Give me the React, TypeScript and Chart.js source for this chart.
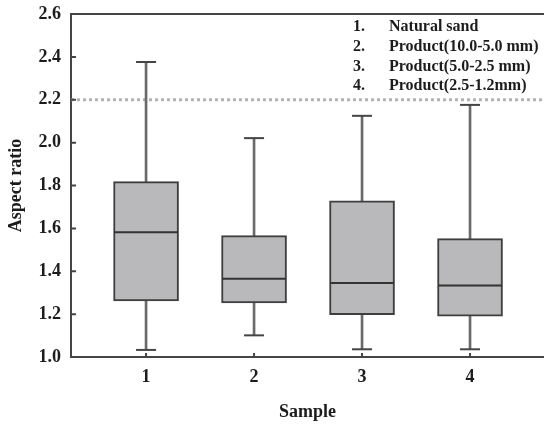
import React, { useEffect, useRef } from "react";
import { Chart, registerables } from "chart.js";

Chart.register(...registerables);

const SAMPLES = [1, 2, 3, 4];
const LOWER = [1.033, 1.101, 1.036, 1.036];
const Q1 = [1.262, 1.252, 1.197, 1.19];
const MEDIAN = [1.582, 1.365, 1.345, 1.334];
const Q3 = [1.818, 1.566, 1.729, 1.552];
const UPPER = [2.376, 2.021, 2.125, 2.176];
const Y_TICKS = [1.0, 1.2, 1.4, 1.6, 1.8, 2.0, 2.2, 2.4, 2.6];
const REF_LINE = 2.2;
const X_MIN = 0.305;
const X_MAX = 4.685;
const LEGEND_NUMS = ["1.", "2.", "3.", "4."];
const LEGEND_LABELS = [
  "Natural sand",
  "Product(10.0-5.0 mm)",
  "Product(5.0-2.5 mm)",
  "Product(2.5-1.2mm)",
];

const FONT = '"Liberation Serif", "Times New Roman", serif';
const TEXT = "#1c1c1c";
const AXIS = "#454545";

const decor = {
  id: "decor",
  afterDraw(chart: any) {
    const { ctx, chartArea, scales } = chart;
    const { left, right, top, bottom } = chartArea;
    const x = scales.x;
    const y = scales.y;
    ctx.save();
    ctx.strokeStyle = AXIS;
    ctx.lineWidth = 2;
    ctx.beginPath();
    ctx.moveTo(left - 1, top);
    ctx.lineTo(right, top);
    Y_TICKS.forEach((v) => {
      const py = y.getPixelForValue(v);
      ctx.moveTo(left, py);
      ctx.lineTo(left + 5, py);
    });
    SAMPLES.forEach((s) => {
      const px = x.getPixelForValue(s);
      ctx.moveTo(px, bottom);
      ctx.lineTo(px, bottom - 4);
    });
    ctx.stroke();

    ctx.font = `bold 16px ${FONT}`;
    ctx.fillStyle = TEXT;
    ctx.textBaseline = "middle";
    ctx.textAlign = "left";
    LEGEND_LABELS.forEach((t, i) => {
      const yy = top + 13 + i * 19.7;
      ctx.fillText(LEGEND_NUMS[i], 353, yy);
      ctx.fillText(t, 389, yy);
    });
    ctx.restore();
  },
};

export default function App() {
  const ref = useRef<HTMLCanvasElement | null>(null);

  useEffect(() => {
    if (!ref.current) return;
    const chart = new Chart(ref.current, {
      type: "bar",
      data: {
        datasets: [
          {
            type: "line",
            data: [
              { x: X_MIN, y: REF_LINE },
              { x: X_MAX, y: REF_LINE },
            ],
            borderColor: "#b2b2b2",
            borderWidth: 3,
            borderDash: [3, 3],
            pointRadius: 0,
            order: 6,
          } as any,
          {
            type: "bar",
            data: SAMPLES.map((s, i) => ({ x: s, y: [LOWER[i], UPPER[i]] })),
            backgroundColor: "#6a6a6a",
            borderWidth: 0,
            barThickness: 2,
            grouped: false,
            order: 5,
          } as any,
          {
            type: "bar",
            data: SAMPLES.map((s, i) => ({ x: s, y: [Q1[i], Q3[i]] })),
            backgroundColor: "#b9b9bb",
            borderColor: "#3e3e3e",
            borderWidth: 2,
            borderSkipped: false,
            barThickness: 65,
            grouped: false,
            order: 4,
          } as any,
          {
            type: "line",
            showLine: false,
            data: [
              ...SAMPLES.map((s, i) => ({ x: s, y: LOWER[i] })),
              ...SAMPLES.map((s, i) => ({ x: s, y: UPPER[i] })),
            ],
            pointStyle: "line",
            pointRadius: 10,
            pointBorderWidth: 2,
            pointBorderColor: "#454545",
            pointBackgroundColor: "#454545",
            order: 2,
          } as any,
          {
            type: "line",
            showLine: false,
            data: SAMPLES.map((s, i) => ({ x: s, y: MEDIAN[i] })),
            pointStyle: "line",
            pointRadius: 32,
            pointBorderWidth: 2,
            pointBorderColor: "#333333",
            pointBackgroundColor: "#333333",
            order: 1,
          } as any,
        ],
      },
      options: {
        responsive: false,
        animation: false,
        events: [],
        layout: { autoPadding: false, padding: { top: 14, right: 0, bottom: 0, left: 0 } },
        plugins: {
          legend: { display: false },
          tooltip: { enabled: false },
          title: { display: false },
        },
        scales: {
          x: {
            type: "linear",
            min: X_MIN,
            max: X_MAX,
            offset: false,
            grid: { display: false, drawTicks: false },
            border: { display: true, color: AXIS, width: 2 },
            afterBuildTicks: (scale: any) => {
              scale.ticks = SAMPLES.map((v) => ({ value: v }));
            },
            afterFit: (scale: any) => {
              scale.height = 67;
              scale.paddingLeft = 0;
              scale.paddingRight = 0;
            },
            ticks: {
              padding: 10,
              color: TEXT,
              font: { family: FONT, size: 18, weight: "bold" },
              callback: (v: any) => String(v),
            },
            title: {
              display: true,
              text: "Sample",
              color: TEXT,
              font: { family: FONT, size: 18, weight: "bold" },
              padding: { top: 0, bottom: 1 },
            },
          },
          y: {
            type: "linear",
            min: 1.0,
            max: 2.6,
            grid: { display: false, drawTicks: false },
            border: { display: true, color: AXIS, width: 2 },
            afterBuildTicks: (scale: any) => {
              scale.ticks = Y_TICKS.map((v) => ({ value: v }));
            },
            afterFit: (scale: any) => {
              scale.width = 71;
              scale.paddingTop = 0;
              scale.paddingBottom = 0;
            },
            ticks: {
              padding: 10,
              color: TEXT,
              font: { family: FONT, size: 18, weight: "bold" },
              callback: (v: any) => Number(v).toFixed(1),
            },
            title: {
              display: true,
              text: "Aspect ratio",
              color: TEXT,
              font: { family: FONT, size: 18, weight: "bold" },
              padding: { top: 6, bottom: 0 },
            },
          },
        },
      } as any,
      plugins: [decor],
    });
    return () => chart.destroy();
  }, []);

  return (
    <div style={{ position: "absolute", left: 0, top: 0, width: 544, height: 424 }}>
      <canvas ref={ref} width={544} height={424} />
    </div>
  );
}
